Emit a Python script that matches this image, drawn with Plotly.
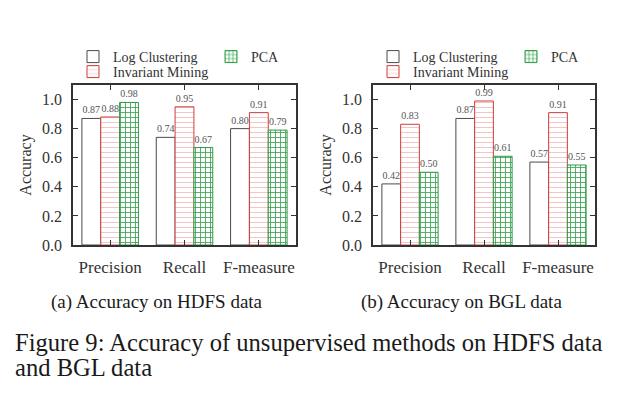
import plotly.graph_objects as go

# ---- data ----
categories = ["Precision", "Recall", "F-measure"]
methods = ["Log Clustering", "Invariant Mining", "PCA"]
hdfs_log_clustering = [0.87, 0.74, 0.80]
hdfs_invariant_mining = [0.88, 0.95, 0.91]
hdfs_pca = [0.98, 0.67, 0.79]
bgl_log_clustering = [0.42, 0.87, 0.57]
bgl_invariant_mining = [0.83, 0.99, 0.91]
bgl_pca = [0.50, 0.61, 0.55]
y_ticks = [0.0, 0.2, 0.4, 0.6, 0.8, 1.0]
subcaptions = ["(a) Accuracy on HDFS data", "(b) Accuracy on BGL data"]
caption_lines = ["Figure 9: Accuracy of unsupervised methods on HDFS data", "and BGL data"]

# page is 644x396; the html body adds an 8px margin, so the figure is 636x388
PAGE_W, PAGE_H = 644, 396
OFF = 8
W, H = PAGE_W - OFF, PAGE_H - OFF
FONT = "Liberation Serif"
TXT = "#333333"

styles = {
    "Log Clustering": dict(color="white", line=dict(color="#4a4a4a", width=1)),
    "Invariant Mining": dict(color="white", line=dict(color="#d23c3c", width=1),
                             pattern=dict(shape="-", fgcolor="#dd5a5a", bgcolor="white",
                                          size=5, solidity=0.07, fillmode="replace")),
    "PCA": dict(color="white", line=dict(color="#2e9a46", width=1),
                pattern=dict(shape="+", fgcolor="#3fa856", bgcolor="white",
                             size=5, solidity=0.32, fillmode="replace")),
}

panels = [
    ("x", "y", [hdfs_log_clustering, hdfs_invariant_mining, hdfs_pca], ["legend", "legend3", "legend2"]),
    ("x2", "y2", [bgl_log_clustering, bgl_invariant_mining, bgl_pca], ["legend4", "legend6", "legend5"]),
]

fig = go.Figure()
for xa, ya, series, legs in panels:
    for name, vals, leg in zip(methods, series, legs):
        fig.add_trace(go.Bar(
            x=categories, y=vals, name=name, xaxis=xa, yaxis=ya,
            marker=styles[name], legend=leg,
            texttemplate="%{y:.2f}", textposition="outside", constraintext="none",
            textfont=dict(family=FONT, size=10, color="#555555"),
            cliponaxis=False, showlegend=True,
        ))

def px_x(v):
    return (v - OFF) / W

def px_y(v):
    return (PAGE_H - v) / H

y_dom = [px_y(245), px_y(85)]
axis_common = dict(showline=True, linecolor="#333333", linewidth=1.5, mirror="ticks",
                   ticks="inside", ticklen=5, tickwidth=1, tickcolor="#333333",
                   showgrid=False, zeroline=False, automargin=False)

fig.update_layout(
    width=W, height=H, margin=dict(l=0, r=0, t=0, b=0, autoexpand=False),
    paper_bgcolor="white", plot_bgcolor="white",
    barmode="group", bargap=0.24, bargroupgap=0,
    font=dict(family=FONT, color=TXT),
    xaxis=dict(domain=[px_x(73), px_x(296)], anchor="y", ticklabelstandoff=6,
               tickfont=dict(size=17, color=TXT), **axis_common),
    xaxis2=dict(domain=[px_x(373), px_x(595)], anchor="y2", ticklabelstandoff=6,
                tickfont=dict(size=17, color=TXT), **axis_common),
    yaxis=dict(domain=y_dom, anchor="x", range=[0, 1.1], tickvals=y_ticks, tickformat=".1f",
               tickfont=dict(size=16, color=TXT), ticklabelstandoff=6,
               title=dict(text="Accuracy", font=dict(size=16, color=TXT), standoff=6),
               **axis_common),
    yaxis2=dict(domain=y_dom, anchor="x2", range=[0, 1.1], tickvals=y_ticks, tickformat=".1f",
                tickfont=dict(size=16, color=TXT), ticklabelstandoff=6,
                title=dict(text="Accuracy", font=dict(size=16, color=TXT), standoff=6),
                **axis_common),
)

leg_common = dict(xanchor="left", yanchor="middle", bgcolor="rgba(0,0,0,0)",
                  font=dict(family=FONT, size=14, color=TXT), itemwidth=30,
                  orientation="v", borderwidth=0, tracegroupgap=0)
legend_pos = {
    "legend": (73, 57), "legend2": (211, 57), "legend3": (73, 72),
    "legend4": (373, 57), "legend5": (511, 57), "legend6": (373, 72),
}
for key, (lx, ly) in legend_pos.items():
    fig.update_layout({key: dict(x=px_x(lx), y=px_y(ly), **leg_common)})

annotations = [
    dict(text=subcaptions[0], x=px_x(157), y=px_y(302), font=dict(size=19)),
    dict(text=subcaptions[1], x=px_x(461), y=px_y(302), font=dict(size=19)),
    dict(text=caption_lines[0], x=px_x(13), y=px_y(342), xanchor="left", font=dict(size=24.6)),
    dict(text=caption_lines[1], x=px_x(13), y=px_y(367), xanchor="left", font=dict(size=24.6)),
]
for a in annotations:
    a.setdefault("xanchor", "center")
    a.update(xref="paper", yref="paper", yanchor="middle", showarrow=False)
    a["font"].update(family=FONT, color="#1a1a1a")
fig.update_layout(annotations=annotations)

fig.write_html("out.html")
